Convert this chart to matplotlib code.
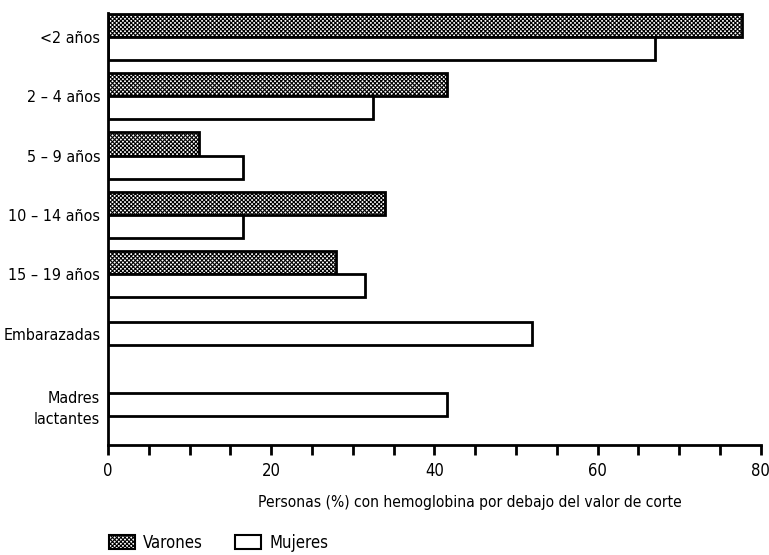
import matplotlib.pyplot as plt
import matplotlib.patches as mpatches
import numpy as np

plt.rcParams['font.family'] = ['DejaVu Sans']
plt.rcParams['font.stretch'] = 'condensed'
plt.rcParams['hatch.linewidth'] = 0.8

categories = ['<2 años', '2 – 4 años', '5 – 9 años', '10 – 14 años', '15 – 19 años',
              'Embarazadas', 'Madres\nlactantes']
varones = [77.7, 41.5, 11.2, 33.9, 27.9, None, None]
mujeres = [67.0, 32.5, 16.6, 16.6, 31.5, 52.0, 41.6]

# group centres (last group sits a bit further down, as in the original)
ypos = [0, 1, 2, 3, 4, 5, 6.19]
h = 0.39
fs = 12

fig = plt.figure(figsize=(7.69, 5.55), dpi=100)
ax = fig.add_axes([0.1404, 0.198, 0.849, 0.7784])

for y, v, m in zip(ypos, varones, mujeres):
    if v is None:
        ax.barh(y, m, height=h, color='white', edgecolor='black', linewidth=2)
    else:
        ax.barh(y - h / 2, v, height=h, color='white', edgecolor='black',
                linewidth=2, hatch='xxxxxxxx')
        ax.barh(y + h / 2, m, height=h, color='white', edgecolor='black', linewidth=2)

ax.set_ylim(6.88, -0.40)
ax.set_xlim(0, 80)
ax.set_yticks(ypos)
ax.set_yticklabels(categories, fontsize=11.5, linespacing=1.55)
ax.tick_params(axis='y', length=0, pad=5.5)
ax.set_xticks([0, 20, 40, 60, 80])
ax.set_xticks(np.arange(0, 81, 5), minor=True)
ax.tick_params(axis='x', which='both', direction='out', length=7.2, width=2, labelsize=fs, pad=5)
ax.set_xlabel('Personas (%) con hemoglobina por debajo del valor de corte', fontsize=11.2)
ax.xaxis.set_label_coords(0.554, -0.116)

for s in ['top', 'right']:
    ax.spines[s].set_visible(False)
for s in ['left', 'bottom']:
    ax.spines[s].set_linewidth(2)

handles = [mpatches.Patch(facecolor='white', edgecolor='black', hatch='xxxxxxxx', linewidth=1.5, label='Varones'),
           mpatches.Patch(facecolor='white', edgecolor='black', linewidth=1.5, label='Mujeres')]
fig.legend(handles=handles, loc='center left', bbox_to_anchor=(0.1417, 0.022), ncol=2,
           frameon=False, fontsize=fs, handlelength=1.56, handleheight=0.9,
           handletextpad=0.5, columnspacing=1.9, borderpad=0, borderaxespad=0)

plt.savefig('out.png', dpi=100)
